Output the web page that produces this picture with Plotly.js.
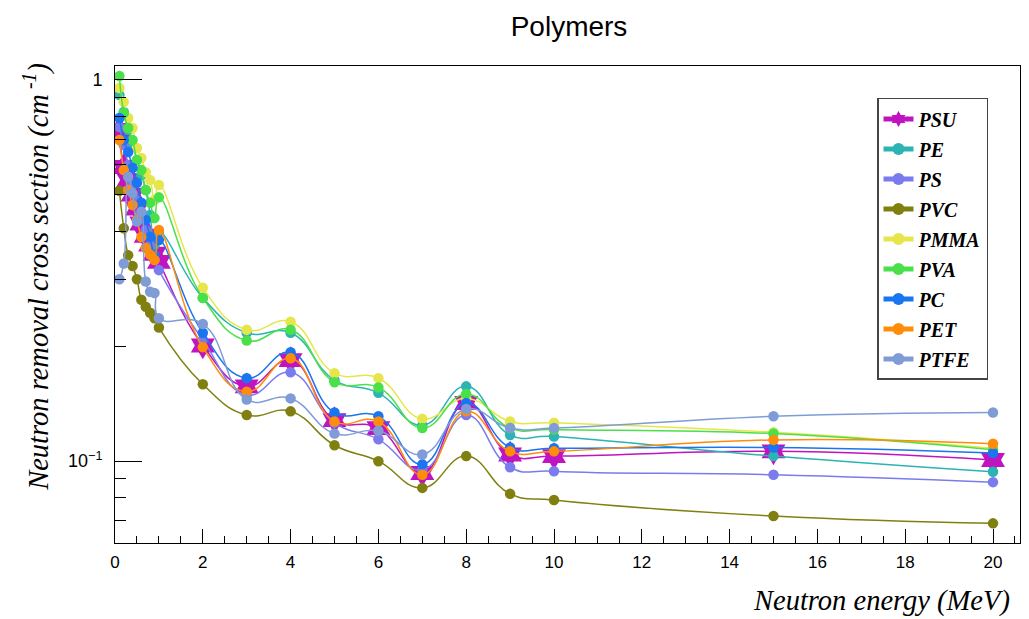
<!DOCTYPE html>
<html>
<head>
<meta charset="utf-8">
<script src="https://cdn.plot.ly/plotly-3.0.1.min.js"></script>
<style>html,body{margin:0;padding:0;background:#fff;}#chart{width:1029px;height:619px;}</style>
</head>
<body>
<div id="chart"></div>
<script>
const energy = [0.1,0.2,0.3,0.4,0.5,0.6,0.7,0.8,0.9,1.0,2,3,4,5,6,7,8,9,10,15,20];

const psu  = [0.739,0.591,0.546,0.500,0.460,0.420,0.390,0.370,0.350,0.333,0.201,0.157,0.184,0.128,0.122,0.093,0.142,0.104,0.103,0.106,0.1006];
const pe   = [0.913,0.824,0.739,0.675,0.617,0.563,0.514,0.442,0.369,0.399,0.268,0.217,0.217,0.163,0.151,0.124,0.157,0.117,0.116,0.103,0.0937];
const ps   = [0.753,0.675,0.598,0.530,0.484,0.442,0.404,0.369,0.337,0.317,0.208,0.149,0.171,0.126,0.114,0.0947,0.132,0.0963,0.094,0.092,0.088];
const pvc  = [0.512,0.408,0.347,0.325,0.300,0.265,0.254,0.245,0.237,0.224,0.159,0.132,0.135,0.110,0.0999,0.085,0.103,0.082,0.079,0.0717,0.0686];
const pmma = [0.953,0.876,0.795,0.748,0.663,0.624,0.573,0.546,0.484,0.530,0.285,0.221,0.232,0.170,0.165,0.129,0.146,0.127,0.126,0.119,0.108];
const pva  = [1.024,0.819,0.748,0.696,0.617,0.580,0.514,0.476,0.434,0.492,0.268,0.207,0.221,0.161,0.156,0.122,0.150,0.122,0.121,0.118,0.107];
const pc   = [0.795,0.696,0.647,0.588,0.537,0.476,0.429,0.387,0.348,0.380,0.217,0.165,0.193,0.134,0.131,0.098,0.142,0.1085,0.108,0.1085,0.105];
const pet  = [0.696,0.580,0.514,0.470,0.429,0.387,0.362,0.348,0.337,0.404,0.199,0.152,0.186,0.127,0.127,0.092,0.135,0.106,0.106,0.1136,0.111];
const ptfe = [0.300,0.330,0.557,0.504,0.425,0.451,0.296,0.278,0.276,0.237,0.229,0.145,0.146,0.118,0.120,0.104,0.137,0.122,0.122,0.131,0.134];

const seriesNames = ['PSU','PE','PS','PVC','PMMA','PVA','PC','PET','PTFE'];
const seriesValues = [psu, pe, ps, pvc, pmma, pva, pc, pet, ptfe];
const seriesColors = ['#c014c0','#2cb3b3','#7b7bee','#808010','#e6e64c','#4ae04a','#1a75f0','#ff8c0a','#7f9cd6'];

const yMinorTicks = [0.07,0.08,0.09,0.2,0.3,0.4,0.5,0.6,0.7,0.8,0.9];

const traces = seriesNames.map((name, i) => ({
  type: 'scatter',
  mode: 'lines+markers',
  name: name,
  legendgroup: name,
  x: energy,
  y: seriesValues[i],
  line: {color: seriesColors[i], width: 1.5, shape: 'spline', smoothing: 1.3},
  marker: name === 'PSU'
    ? {symbol: 'hexagram', size: 21, color: seriesColors[i]}
    : {symbol: 'circle', size: 10.5, color: seriesColors[i]}
}));

const layout = {
  width: 1029, height: 619,
  margin: {l: 115, r: 9, t: 66, b: 76},
  paper_bgcolor: '#fff', plot_bgcolor: '#fff',
  showlegend: true,
  title: {
    text: 'Polymers',
    font: {family: 'Liberation Sans, Arial, sans-serif', size: 28, color: '#000'},
    x: 0.553, xref: 'container', xanchor: 'center',
    y: 0.958, yref: 'container', yanchor: 'middle'
  },
  xaxis: {
    type: 'linear', range: [0, 20.615],
    tickmode: 'linear', tick0: 0, dtick: 2,
    ticks: 'inside', ticklen: 14, tickwidth: 1, tickcolor: '#000',
    minor: {tick0: 0, dtick: 0.5, ticks: 'inside', ticklen: 7, tickwidth: 1, tickcolor: '#000'},
    showgrid: false, zeroline: false,
    showline: true, linecolor: '#000', linewidth: 1, mirror: true,
    tickfont: {family: 'Liberation Sans, Arial, sans-serif', size: 17, color: '#000'},
    ticklabelstandoff: 4
  },
  yaxis: {
    type: 'log', range: [-1.2152, 0.0367],
    tickmode: 'array', tickvals: [0.1, 1], ticktext: ['10<sup>\u22121</sup>', '1'],
    ticks: 'inside', ticklen: 27, tickwidth: 1, tickcolor: '#000',
    minor: {tickmode: 'array', tickvals: yMinorTicks, ticks: 'inside', ticklen: 11, tickwidth: 1, tickcolor: '#000'},
    showgrid: false, zeroline: false,
    showline: true, linecolor: '#000', linewidth: 1, mirror: true,
    tickfont: {family: 'Liberation Sans, Arial, sans-serif', size: 18, color: '#000'},
    ticklabelstandoff: 8
  },
  legend: {
    x: 0.842, y: 0.933, xanchor: 'left', yanchor: 'top',
    bgcolor: '#fff', bordercolor: '#444', borderwidth: 1.5,
    font: {family: 'Liberation Serif, Times New Roman, serif', size: 20, color: '#000', style: 'italic', weight: 'bold'},
    itemsizing: 'constant', itemwidth: 30,
    traceorder: 'grouped', tracegroupgap: 1
  },
  annotations: [
    {
      text: 'Neutron energy (MeV)', xref: 'paper', yref: 'paper',
      x: 0.991, y: -0.1216, xanchor: 'right', yanchor: 'middle', showarrow: false,
      font: {family: 'Liberation Serif, Times New Roman, serif', size: 28.5, color: '#000', style: 'italic'}
    },
    {
      text: 'Neutron removal cross section (cm<sup> -1</sup>)', xref: 'paper', yref: 'paper',
      x: -0.0862, y: 0.558, xanchor: 'center', yanchor: 'middle', showarrow: false, textangle: -90,
      font: {family: 'Liberation Serif, Times New Roman, serif', size: 28.5, color: '#000', style: 'italic'}
    }
  ]
};

Plotly.newPlot('chart', traces, layout, {displayModeBar: false, staticPlot: true});
</script>
</body>
</html>
